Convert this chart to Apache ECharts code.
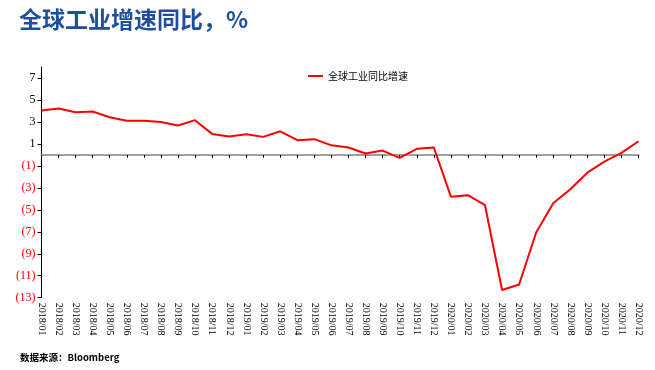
<!DOCTYPE html>
<html><head><meta charset="utf-8">
<script src="https://cdn.jsdelivr.net/npm/echarts@6/dist/echarts.min.js"></script>
<style>html,body{margin:0;padding:0;background:#fff}#c{width:655px;height:370px}</style>
</head><body><div id="c"></div>
<script>
var categories = ['2018/01','2018/02','2018/03','2018/04','2018/05','2018/06','2018/07','2018/08','2018/09','2018/10','2018/11','2018/12',
'2019/01','2019/02','2019/03','2019/04','2019/05','2019/06','2019/07','2019/08','2019/09','2019/10','2019/11','2019/12',
'2020/01','2020/02','2020/03','2020/04','2020/05','2020/06','2020/07','2020/08','2020/09','2020/10','2020/11','2020/12'];
var growth = [4.03,4.22,3.89,3.95,3.43,3.10,3.10,3.00,2.67,3.16,1.91,1.67,
1.88,1.64,2.15,1.34,1.43,0.87,0.67,0.12,0.39,-0.27,0.55,0.67,
-3.80,-3.67,-4.58,-12.3,-11.8,-7.07,-4.40,-3.13,-1.62,-0.62,0.18,1.24];
var yTicks = [-13,-11,-9,-7,-5,-3,-1,1,3,5,7];
var seriesName = '全球工业同比增速';

var chart = echarts.init(document.getElementById('c'));
chart.setOption({
  animation: false,
  title: [{
    text: '全球工业增速同比，%', left: 14, top: 3,
    textStyle: {color: '#1f4e9c', fontSize: 23, fontWeight: 'bold', fontFamily: 'Noto Sans CJK SC'}
  }, {
    text: '数据来源：Bloomberg', left: 15, top: 348,
    textStyle: {color: '#000', fontSize: 9.5, fontWeight: 'bold', fontFamily: 'Noto Sans CJK SC'}
  }],
  legend: {
    data: [seriesName], left: 303, top: 66, itemWidth: 15, itemHeight: 2, itemGap: 6,
    icon: 'rect',
    textStyle: {fontSize: 10, color: '#000', fontFamily: 'Noto Sans CJK SC'}
  },
  grid: {left: 41.5, right: 16.5, top: 67, bottom: 72.3, containLabel: false},
  xAxis: [{
    type: 'category', data: categories, boundaryGap: false, position: 'bottom',
    axisLine: {show: false, onZero: false}, axisTick: {show: false},
    axisLabel: {rotate: -90, margin: 5, interval: 0, fontSize: 10, color: '#000', fontFamily: 'Liberation Serif'}
  }, {
    type: 'category', data: categories, boundaryGap: false, position: 'top',
    axisLine: {show: true, onZero: true, lineStyle: {color: '#a0a0a0', width: 2}},
    axisTick: {show: true, inside: true, length: 3, interval: 0, lineStyle: {color: '#000', width: 1}},
    axisLabel: {show: false}
  }],
  yAxis: {
    type: 'value', min: -13, max: 8,
    splitLine: {show: false},
    axisLine: {show: true, lineStyle: {color: '#000', width: 1}},
    axisTick: {show: true, length: 4, customValues: yTicks, lineStyle: {color: '#000'}},
    axisLabel: {
      customValues: yTicks, margin: 6, fontSize: 12, fontFamily: 'Liberation Serif',
      formatter: function (v) { return v < 0 ? '(' + (-v) + ')' : String(v); },
      color: function (v) { return Number(v) < 0 ? '#ff0000' : '#000'; }
    }
  },
  series: [{
    name: seriesName, type: 'line', data: growth, xAxisIndex: 0, showSymbol: false, symbol: 'none',
    lineStyle: {color: '#ff0000', width: 2}, itemStyle: {color: '#ff0000'}
  }]
});
</script></body></html>
